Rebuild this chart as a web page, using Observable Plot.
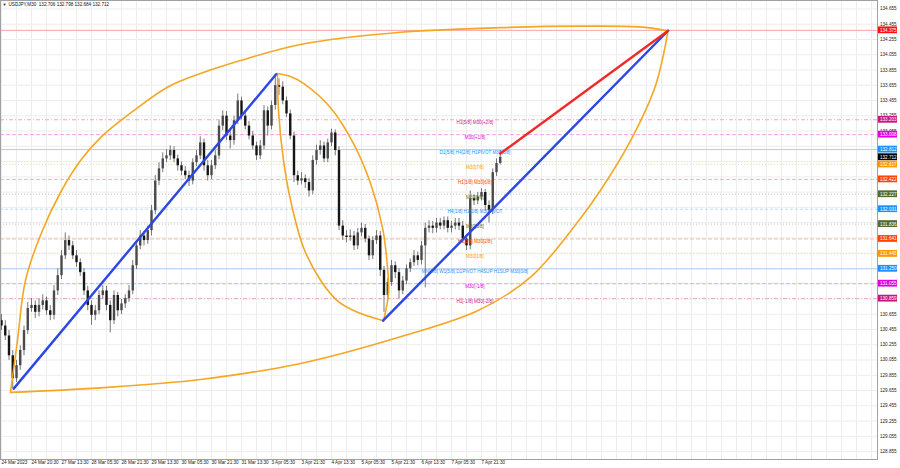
<!DOCTYPE html>
<html><head><meta charset="utf-8">
<script src="https://cdn.jsdelivr.net/npm/d3@7"></script>
<script src="https://cdn.jsdelivr.net/npm/@observablehq/plot@0.6"></script>
<style>
html,body{margin:0;padding:0;background:#fff;}
#chart{width:900px;height:468px;overflow:hidden;}
</style></head><body><div id="chart"></div>
<script>
// ---------------- DATA ----------------
const symbolName = "USDJPY,M30";
const lastOHLC = [132.706, 132.798, 132.684, 132.712];

// candle time index (30-minute bars from 24 Mar 2023, one sample every 4 bars)
const candleBar = [0,4,8,12,16,20,24,28,32,36,40,44,48,52,56,60,64,68,72,76,80,84,88,92,96,100,104,108,112,116,120,124,128,132,136,140,144,148,152,156,160,164,168,172,176,180,184,188,192,196,200,204,208,212,216,220,224,228,232,236,240,244,248,252,256,260,264,268,272,276,280,284,288,292,296,300,304,308,312,316,320,324,328,332,336,340,344,348,352,356,360,364,368,372,376,380,384,388,392,396,400,404,408,412,416,420,424,428,432,436,440,444,448,452,456,460,464,468,472,476,480,484,488,492,496,500,504,508,512,516,520,524,528,532];
const openP = [130.57,130.50,130.37,130.11,129.81,129.98,130.18,130.44,130.73,130.77,
130.68,130.77,130.83,130.70,130.64,130.96,131.16,131.42,131.62,131.55,
131.42,131.33,131.20,130.96,130.77,130.64,130.70,130.90,130.96,130.77,
130.57,130.90,130.70,130.79,130.86,130.96,131.29,131.55,131.68,131.62,
131.75,132.01,132.40,132.56,132.69,132.73,132.80,132.69,132.60,132.53,
132.47,132.40,132.64,132.73,132.90,132.60,132.47,132.60,132.73,133.12,
133.25,132.99,132.93,133.19,133.45,133.25,133.12,132.99,132.86,132.73,
132.86,133.32,133.12,133.39,133.65,133.63,133.45,133.28,132.99,132.47,
132.40,132.43,132.38,132.27,132.67,132.80,132.86,132.69,132.90,133.03,
132.80,131.81,131.68,131.66,131.68,131.55,131.72,131.78,131.64,131.42,
131.62,131.68,131.23,130.90,131.07,131.29,131.20,130.96,131.09,131.25,
131.33,131.42,131.36,131.55,131.78,131.81,131.78,131.85,131.81,131.88,
131.78,131.81,131.85,131.81,131.64,131.55,132.17,132.14,132.19,132.25,
132.08,132.01,132.51,132.63];
const highP = [130.65,130.57,130.44,130.18,130.05,130.24,130.50,130.81,130.86,130.83,
130.85,130.91,130.88,130.77,131.03,131.25,131.49,131.72,131.68,131.61,
131.49,131.38,131.25,131.02,130.83,130.77,130.96,131.03,131.02,130.83,
130.96,130.94,130.85,130.91,131.03,131.36,131.62,131.75,131.74,131.81,
132.08,132.47,132.64,132.77,132.81,132.86,132.85,132.74,132.65,132.59,
132.53,132.69,132.80,132.98,132.95,132.67,132.67,132.80,133.19,133.32,
133.31,133.06,133.25,133.54,133.50,133.32,133.18,133.05,132.91,132.93,
133.39,133.37,133.45,133.80,133.74,133.70,133.50,133.33,133.04,132.53,
132.51,132.48,132.43,132.73,132.87,132.93,132.91,132.95,133.08,133.07,
132.85,131.88,131.75,131.76,131.74,131.78,131.85,131.83,131.68,131.67,
131.75,131.74,131.28,131.12,131.36,131.34,131.25,131.15,131.30,131.38,
131.49,131.47,131.61,131.85,131.88,131.87,131.91,131.91,131.93,131.93,
131.87,131.91,131.91,131.87,131.70,132.27,132.22,132.25,132.30,132.29,
132.14,132.56,132.69,132.80];
const lowP = [130.44,130.31,130.05,129.68,129.76,129.92,130.11,130.39,130.68,130.60,
130.62,130.71,130.64,130.57,130.58,130.90,131.11,131.37,131.49,131.37,
131.27,131.15,130.90,130.70,130.51,130.57,130.65,130.85,130.70,130.41,
130.52,130.62,130.65,130.73,130.81,130.91,131.24,131.50,131.55,131.57,
131.68,131.96,132.34,132.51,132.64,132.67,132.64,132.53,132.47,132.42,
132.33,132.35,132.59,132.68,132.53,132.40,132.42,132.55,132.68,133.06,
132.93,132.82,132.87,133.14,133.20,133.07,132.94,132.81,132.67,132.68,
132.81,132.99,133.07,133.33,133.52,133.40,133.23,132.94,132.38,132.34,
132.35,132.30,132.19,132.22,132.61,132.74,132.64,132.64,132.85,132.73,
131.75,131.62,131.59,131.61,131.49,131.50,131.67,131.59,131.36,131.37,
131.57,131.15,130.68,130.83,131.02,131.12,130.86,130.91,131.04,131.20,
131.28,131.29,131.30,131.00,131.72,131.71,131.72,131.76,131.76,131.72,
131.72,131.76,131.75,131.59,131.49,131.50,132.08,132.09,132.14,132.01,
131.85,131.96,132.46,132.61];
const closeP = [130.50,130.37,130.11,129.81,129.98,130.18,130.44,130.73,130.77,130.68,
130.77,130.83,130.70,130.64,130.96,131.16,131.42,131.62,131.55,131.42,
131.33,131.20,130.96,130.77,130.64,130.70,130.90,130.96,130.77,130.57,
130.90,130.70,130.79,130.86,130.96,131.29,131.55,131.68,131.62,131.75,
132.01,132.40,132.56,132.69,132.73,132.80,132.69,132.60,132.53,132.47,
132.40,132.64,132.73,132.90,132.60,132.47,132.60,132.73,133.12,133.25,
132.99,132.93,133.19,133.45,133.25,133.12,132.99,132.86,132.73,132.86,
133.32,133.12,133.39,133.65,133.63,133.45,133.28,132.99,132.47,132.40,
132.43,132.38,132.27,132.67,132.80,132.86,132.69,132.90,133.03,132.80,
131.81,131.68,131.66,131.68,131.55,131.72,131.78,131.64,131.42,131.62,
131.68,131.23,130.90,131.07,131.29,131.20,130.96,131.09,131.25,131.33,
131.42,131.36,131.55,131.78,131.81,131.78,131.85,131.81,131.88,131.78,
131.81,131.85,131.81,131.64,131.55,132.17,132.14,132.19,132.25,132.08,
132.01,132.51,132.63,132.71];

// time axis
const timeTickBars = [0,32,64,96,128,160,192,224,256,288,320,352,384,416,448,480,512];
const timeTickLabels = ["24 Mar 2023","24 Mar 20:30","27 Mar 13:30","28 Mar 05:30","28 Mar 21:30","29 Mar 13:30","30 Mar 05:30","30 Mar 21:30","31 Mar 13:30","3 Apr 05:30","3 Apr 21:30","4 Apr 13:30","5 Apr 05:30","5 Apr 21:30","6 Apr 13:30","7 Apr 05:30","7 Apr 21:30"];
// price axis
const priceTicks = [128.855,129.055,129.255,129.455,129.655,129.855,130.055,130.255,130.455,130.655,130.855,131.055,131.255,131.455,131.655,131.855,132.055,132.255,132.455,132.655,132.855,133.055,133.255,133.455,133.655,133.855,134.055,134.255,134.455,134.655];

// Murrey math levels
const levelPrice = [133.203,133.008,132.812,132.617,132.422,132.227,132.031,131.836,131.641,131.445,131.250,131.055,130.859];
const levelKind  = ["p2","p1","blue","org","ored","olv","blue2","olv","ored","org","blue","p1","p2"];
const levelName  = ["H1[5/8] M30[+2/8]","M30[+1/8]","D1[5/8] H4[2/8] H1PIVOT M30[8/8]","M30[7/8]","H1[3/8] M30[6/8]","M30[5/8]","H4[1/8] H1[2/8] M30PIVOT","M30[3/8]","H1[1/8] M30[2/8]","M30[1/8]","MN[0/8] W1[5/8] D1PIVOT H4SUP H1SUP M30[0/8]","M30[-1/8]","H1[-1/8] M30[-2/8]"];
const levelLabelBar = 505;
const targetLevel = 134.375;

// trend lines (bar, price)
const trendUp1Bar = [13, 293];     const trendUp1Price = [129.68, 133.80];
const trendUp2Bar = [407, 711];    const trendUp2Price = [130.57, 134.37];
const projBar = [532, 711];        const projPrice = [132.76, 134.37];

// ellipse arcs
const bigTopBar   = [9.6,17,25.6,41.6,62.9,84.3,105.6,140.8,177,212.3,255,319,425.6,532,620,680,711];
const bigTopPrice = [129.63,130.31,131.10,131.69,132.25,132.67,132.97,133.32,133.63,133.81,133.98,134.19,134.35,134.41,134.43,134.42,134.37];
const bigBotBar   = [9.6,105.6,212.3,319,425.6,507.7,564.3,614.4,639,671,697.6,711];
const bigBotPrice = [129.63,129.69,129.80,130.01,130.36,130.70,131.14,131.86,132.28,132.93,133.65,134.37];
const smallLeftBar   = [294.4,295.5,300.8,308.3,322.1,340.3,358.4,379.7,407.5];
const smallLeftPrice = [133.81,133.32,132.67,132.15,131.53,131.10,130.83,130.68,130.57];
const smallRightBar   = [294.4,308.3,322.1,351,375.5,393.6,406.4,411.7,412.8,407.5];
const smallRightPrice = [133.81,133.77,133.68,133.36,132.89,132.37,131.79,131.27,130.93,130.57];

// ---------------- STYLE ----------------
const kindText = {p2:"#c71585",p1:"#e000e0",blue:"#1e90ff",blue2:"#1e90ff",org:"#ff9900",ored:"#ff4500",olv:"#556b2f"};
const kindLine = {p2:"#e7a6cf",p1:"#f0a0f0",blue:"#a8cff5",blue2:"#b9daf7",org:"#f5d7a8",ored:"#f5b7a5",olv:"#c2c8b3"};
const kindDash = {p2:"4,2,1,2",p1:"4,2",blue:null,blue2:"3,2",org:"1,2",ored:"4,2",olv:"1,2"};

const X_DOMAIN = [-1.07, 934.4];
const Y_DOMAIN = [128.751, 134.766];
const PX_PER_PRICE = 458 / (Y_DOMAIN[1] - Y_DOMAIN[0]);

const candles = candleBar.map((b,i)=>({bar:b, o:openP[i], h:highP[i], l:lowP[i], c:closeP[i]}));
const levels = levelPrice.map((p,i)=>({price:p, kind:levelKind[i], name:levelName[i]}));
const tags = [
  {price: targetLevel, color:"#ff1010"},
  ...levels.map(d=>({price:d.price, color: kindText[d.kind]})),
  {price: lastOHLC[3], color:"#000000"}
];
// tick labels hidden behind a price tag (as in the terminal, tags are drawn over them)
const visibleTicks = priceTicks.filter(t => !tags.some(g => Math.abs(g.price - t) * PX_PER_PRICE < 3.4));
const line = (bx, py) => bx.map((b,i)=>({bar:b, price:py[i]}));

const dashGroups = Object.keys(kindDash);
const levelMarks = dashGroups.map(k => Plot.ruleY(levels.filter(d=>d.kind===k), {
  y:"price", stroke: kindLine[k], strokeWidth: 1, strokeDasharray: kindDash[k] || undefined
}));

const FONT = "'Liberation Sans', Arial, sans-serif";
const chart = Plot.plot({
  width: 900, height: 468,
  marginLeft: 0, marginRight: 23, marginTop: 0, marginBottom: 9,
  x: {domain: X_DOMAIN, axis: null},
  y: {domain: Y_DOMAIN, axis: null},
  style: {fontFamily: FONT, fontSize: "4.6px", background: "#fff", overflow: "visible"},
  marks: [
    Plot.ruleX(d3.range(0, 935, 16), {stroke: "#ededed"}),
    Plot.ruleY(priceTicks, {stroke: "#ededed"}),
    ...levelMarks,
    Plot.ruleY([targetLevel], {stroke: "#f7a3a3", strokeWidth: 1}),
    // candles
    Plot.ruleX(candles, {x:"bar", y1:"l", y2:"h", stroke:"#777", strokeWidth:1}),
    Plot.ruleX(candles, {x:"bar", y1:"o", y2:"c", stroke: d => d.c >= d.o ? "#4a4a4a" : "#151515", strokeWidth: 2.4}),
    // level labels
    Plot.text(levels, {x: () => levelLabelBar, y:"price", text:"name", fill: d => kindText[d.kind], dy: 2.8, fontSize: 4.6}),
    // ellipses
    Plot.line(line(bigTopBar, bigTopPrice), {x:"bar", y:"price", stroke:"#f5a623", strokeWidth:1.6, curve:"catmull-rom"}),
    Plot.line(line(bigBotBar, bigBotPrice), {x:"bar", y:"price", stroke:"#f5a623", strokeWidth:1.6, curve:"catmull-rom"}),
    Plot.line(line(smallLeftBar, smallLeftPrice), {x:"bar", y:"price", stroke:"#f5a623", strokeWidth:1.6, curve:"catmull-rom"}),
    Plot.line(line(smallRightBar, smallRightPrice), {x:"bar", y:"price", stroke:"#f5a623", strokeWidth:1.6, curve:"catmull-rom"}),
    // trend lines
    Plot.line(line(trendUp1Bar, trendUp1Price), {x:"bar", y:"price", stroke:"#2b47e6", strokeWidth:2.4}),
    Plot.line(line(trendUp2Bar, trendUp2Price), {x:"bar", y:"price", stroke:"#2b47e6", strokeWidth:2.4}),
    Plot.line(line(projBar, projPrice), {x:"bar", y:"price", stroke:"#f02a2a", strokeWidth:2.4}),
    Plot.frame({stroke:"#a0a0a0"}),
    // price axis labels
    Plot.text(visibleTicks, {x: () => X_DOMAIN[1], y: d => d, text: d => d.toFixed(3), textAnchor:"start", dx: 2.5, fill:"#222"}),
    // price tags
    Plot.rect(tags, {x1: () => X_DOMAIN[1], x2: () => X_DOMAIN[1], y1:"price", y2:"price", fill: d=>d.color, insetLeft: 1, insetRight: -20, insetTop: -3.4, insetBottom: -3.4}),
    Plot.text(tags, {x: () => X_DOMAIN[1], y:"price", text: d => d.price.toFixed(3), textAnchor:"start", dx: 2.5, fill:"#fff"}),
    // time axis labels
    Plot.text(timeTickBars, {x: d => d, frameAnchor:"bottom", dy: 4.6, textAnchor:"start", text: (d,i) => timeTickLabels[i], fill:"#222"}),
    // title
    Plot.text([symbolName + "  " + lastOHLC.map(v=>v.toFixed(3)).join(" ")], {frameAnchor:"top-left", dx: 8, dy: 2.5, textAnchor:"start", fill:"#111"}),
    Plot.text(["▼"], {frameAnchor:"top-left", dx: 2, dy: 2.5, textAnchor:"start", fill:"#111", fontSize: 4})
  ]
});
document.getElementById("chart").appendChild(chart);
</script>
</body></html>
